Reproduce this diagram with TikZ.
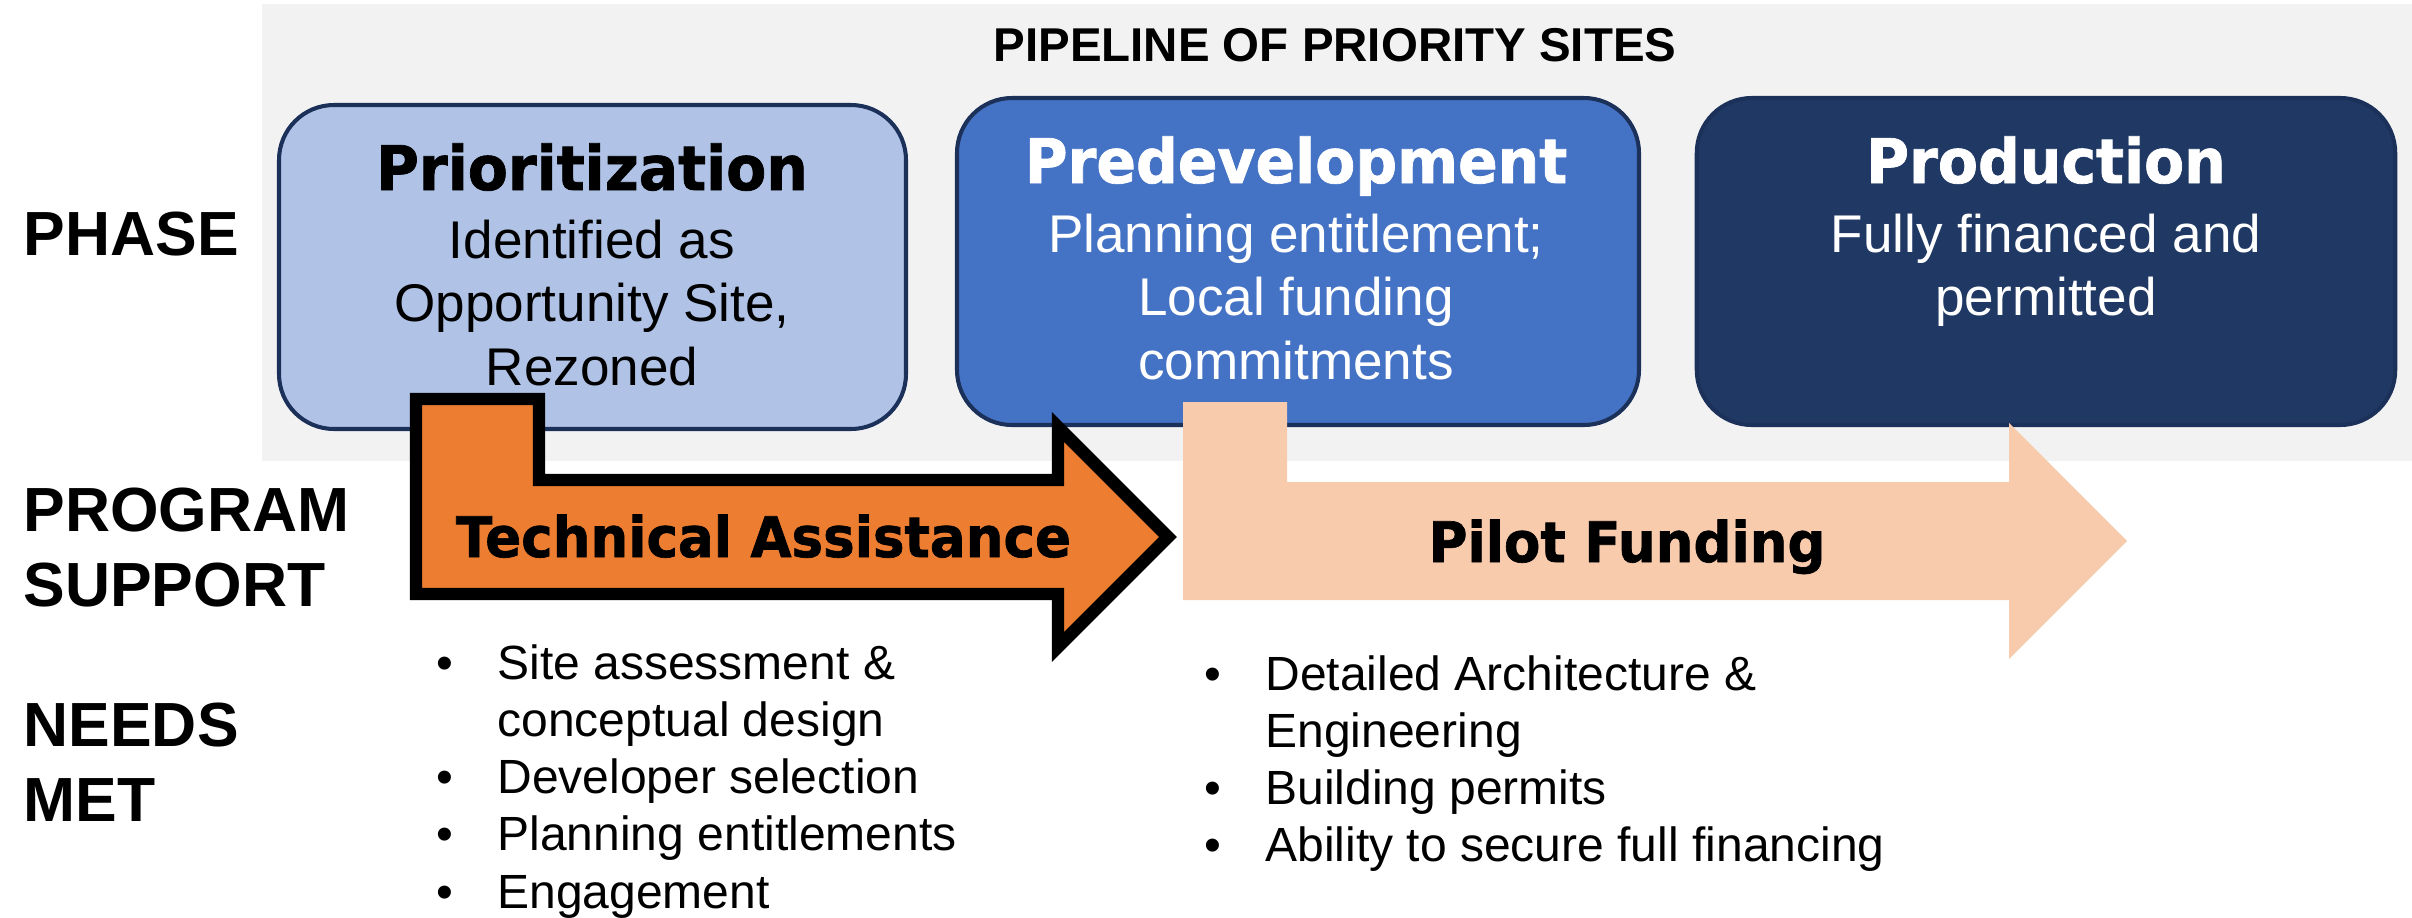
\documentclass[tikz,border=0pt]{standalone}
\usepackage{fontspec}
\setmainfont{Liberation Sans}
\newfontfamily\headfont[FakeStretch=0.95, BoldFeatures={FakeBold=1.2}]{DejaVu Sans}
\usepackage{tikz}
\usetikzlibrary{positioning}
\definecolor{pipegray}{HTML}{F2F2F2}
\definecolor{lightblue}{HTML}{B0C3E6}
\definecolor{midblue}{HTML}{4472C4}
\definecolor{darkblue}{HTML}{203864}
\definecolor{navyline}{HTML}{1C3159}
\definecolor{taorange}{HTML}{ED7D31}
\definecolor{peach}{HTML}{F8CBAD}
\newcommand{\stackc}[1]{\begin{tabular}[t]{@{}c@{}}#1\end{tabular}}
\newcommand{\stackl}[1]{\begin{tabular}[t]{@{}l@{}}#1\end{tabular}}
\newcommand{\bulletrows}[1]{\begin{tabular}[t]{@{}l@{\hspace{0.44cm}}l@{}}#1\end{tabular}}
\tikzstyle{phasebox}=[draw=navyline, line width=1.15pt, rounded corners=0.55cm, inner sep=0pt]
\tikzstyle{heading}=[anchor=base, inner sep=0pt, font=\headfont\bfseries\fontsize{17.5}{21}\selectfont]
\tikzstyle{boxtext}=[anchor=base, inner sep=0pt, font=\fontsize{15.1}{18.07}\selectfont]
\tikzstyle{rowlabel}=[anchor=base west, inner sep=0pt, font=\bfseries\fontsize{17.75}{21.6}\selectfont]
\tikzstyle{needlist}=[anchor=base west, inner sep=0pt, font=\fontsize{13.66}{16.3}\selectfont]
\tikzstyle{arrowtext}=[anchor=base, inner sep=0pt, font=\headfont\bfseries\fontsize{15.9}{19}\selectfont]
\tikzstyle{taarrow}=[fill=taorange, draw=black, line width=3.55pt]

\begin{document}
\begin{tikzpicture}
\useasboundingbox (0,0) rectangle (24.12,-9.18);
\fill[pipegray] (2.62,-0.04) rectangle (24.12,-4.61);
\node[anchor=base, inner sep=0pt, font=\bfseries\fontsize{13.5}{16}\selectfont] (pipe) at (13.35,-0.617) {PIPELINE OF PRIORITY SITES};

\node[phasebox, fill=lightblue, minimum width=6.27cm, minimum height=3.24cm] (prio) at (5.925,-2.67) {};
\node[phasebox, fill=midblue, minimum width=6.82cm, minimum height=3.27cm] (predev) at (12.98,-2.615) {};
\node[phasebox, fill=darkblue, minimum width=6.985cm, minimum height=3.27cm] (prod) at (20.46,-2.615) {};

\node[heading] (prioT) at (5.92,-1.90) {Prioritization};
\node[boxtext] (prioD) at (5.92,-2.58) {\stackc{Identified as\\Opportunity Site,\\Rezoned}};
\node[heading, text=white] (predevT) at (12.96,-1.83) {Predevelopment};
\node[boxtext, text=white] (predevD) at (12.96,-2.52) {\stackc{Planning entitlement;\\Local funding\\commitments}};
\node[heading, text=white] (prodT) at (20.46,-1.83) {Production};
\node[boxtext, text=white] (prodD) at (20.46,-2.52) {\stackc{Fully financed and\\permitted}};

\filldraw[taarrow] (4.16,-3.99) -- (5.39,-3.99) -- (5.39,-4.80) -- (10.58,-4.80) -- (10.58,-4.27)
  -- (11.68,-5.37) -- (10.58,-6.47) -- (10.58,-5.94) -- (4.16,-5.94) -- cycle;
\fill[peach] (11.83,-4.02) -- (12.87,-4.02) -- (12.87,-4.82) -- (20.09,-4.82) -- (20.09,-4.23)
  -- (21.27,-5.41) -- (20.09,-6.59) -- (20.09,-6.00) -- (11.83,-6.00) -- cycle;
\node[arrowtext] (ta) at (7.635,-5.57) {Technical Assistance};
\node[arrowtext] (pilot) at (16.27,-5.62) {Pilot Funding};

\node[rowlabel] (phase) at (0.23,-2.55) {PHASE};
\node[rowlabel] (support) at (0.23,-5.31) {\stackl{PROGRAM\\SUPPORT}};
\node[rowlabel] (needs) at (0.23,-7.46) {\stackl{NEEDS\\MET}};

\node[needlist] (taneeds) at (4.36,-6.79) {\bulletrows{\textbullet & Site assessment \&\\
  & conceptual design\\
  \textbullet & Developer selection\\
  \textbullet & Planning entitlements\\
  \textbullet & Engagement}};
\node[needlist] (pilotneeds) at (12.04,-6.90) {\bulletrows{\textbullet & Detailed Architecture \&\\
  & Engineering\\
  \textbullet & Building permits\\
  \textbullet & Ability to secure full financing}};
\end{tikzpicture}
\end{document}
